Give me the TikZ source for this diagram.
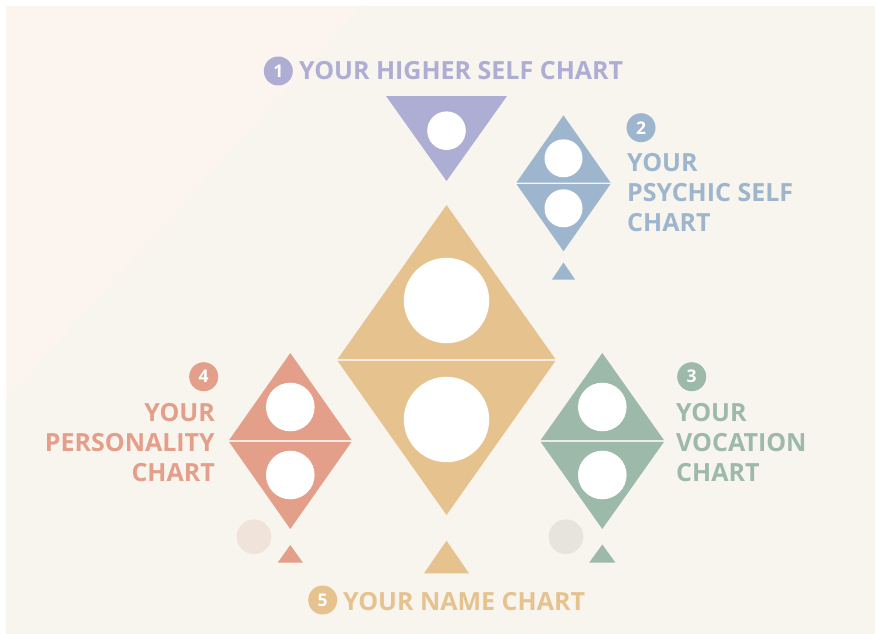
\documentclass[tikz,border=0pt]{standalone}
\usepackage{fontspec}
\setmainfont{Open Sans}
\usepackage{xcolor}
\definecolor{hsPanel}{HTML}{F8F4EE}
\definecolor{hsBlush}{HTML}{FCF4EE}
\definecolor{hsPurple}{HTML}{AEADD4}
\definecolor{hsBlue}{HTML}{9DB6CD}
\definecolor{hsGold}{HTML}{E6C28F}
\definecolor{hsSalmon}{HTML}{E39F8A}
\definecolor{hsSage}{HTML}{9CB9A9}
\definecolor{hsDotRose}{HTML}{EFE3DA}
\definecolor{hsDotGrey}{HTML}{E6E4DC}
\newcommand{\hsLabel}{\fontsize{25}{30}\selectfont\bfseries}
\newcommand{\hsNum}{\fontsize{17.5}{20}\selectfont\bfseries}
% kite: colour, centre x, middle y, half width, half height, circle radius, circle offset
\newcommand{\hsKite}[7]{%
  \fill[#1] (#2-#4,#3-0.8) -- (#2,#3-#5) -- (#2+#4,#3-0.8) -- cycle;
  \fill[#1] (#2-#4,#3+0.8) -- (#2,#3+#5) -- (#2+#4,#3+0.8) -- cycle;
  \fill[white] (#2,#3-#7) circle (#6);
  \fill[white] (#2,#3+#7) circle (#6);}
\newcommand{\hsTip}[5]{\fill[#1] (#2-#4,#3) -- (#2,#3-#5) -- (#2+#4,#3) -- cycle;}

\begin{document}
\begin{tikzpicture}[x=1pt,y=-1pt]
\useasboundingbox (0,0) rectangle (875,634);
\fill[white] (0,0) rectangle (875,634);
\fill[hsPanel] (6,6) rectangle (875,634);
\fill[hsBlush] (6,6) -- (362,6) -- (6,400) -- cycle;
% top: higher self
\fill[hsPurple] (386,96) -- (507,96) -- (446.5,181) -- cycle;
\fill[white] (446.5,130.7) circle (19.3);
\node[circle, fill=hsPurple, minimum size=29pt, inner sep=0pt, text=white] (n1) at (278.3,71) {\hsNum 1};
\node[anchor=base west, inner sep=0pt, text=hsPurple] (t1) at (299,79) {\hsLabel YOUR HIGHER SELF CHART};
% psychic self
\hsKite{hsBlue}{563.5}{183.3}{47}{68}{19}{25}
\hsTip{hsBlue}{563.5}{279.5}{11.5}{17}
\node[circle, fill=hsBlue, minimum size=29pt, inner sep=0pt, text=white] (n2) at (641,127.7) {\hsNum 2};
\node[anchor=base west, inner sep=0pt, text=hsBlue] (t2a) at (627,171.7) {\hsLabel YOUR};
\node[anchor=base west, inner sep=0pt, text=hsBlue] (t2b) at (627,201.7) {\hsLabel PSYCHIC SELF};
\node[anchor=base west, inner sep=0pt, text=hsBlue] (t2c) at (627,231.7) {\hsLabel CHART};
% name chart (centre)
\hsKite{hsGold}{446.5}{360}{109}{155}{42.7}{59.5}
\hsTip{hsGold}{446.5}{573.3}{22.5}{32.6}
\node[circle, fill=hsGold, minimum size=29pt, inner sep=0pt, text=white] (n5) at (322.7,600) {\hsNum 5};
\node[anchor=base west, inner sep=0pt, text=hsGold] (t5) at (343,610.7) {\hsLabel YOUR NAME CHART};
% personality
\fill[hsDotRose] (254,536.7) circle (17.3);
\hsKite{hsSalmon}{290.3}{441}{61.3}{88}{24.3}{34}
\hsTip{hsSalmon}{290.3}{562.5}{12.5}{17.5}
\node[circle, fill=hsSalmon, minimum size=29pt, inner sep=0pt, text=white] (n4) at (203.7,376.7) {\hsNum 4};
\node[anchor=base east, inner sep=0pt, text=hsSalmon] (t4a) at (215,421) {\hsLabel YOUR};
\node[anchor=base east, inner sep=0pt, text=hsSalmon] (t4b) at (215,451) {\hsLabel PERSONALITY};
\node[anchor=base east, inner sep=0pt, text=hsSalmon] (t4c) at (215,481) {\hsLabel CHART};
% vocation
\fill[hsDotGrey] (566,536.7) circle (17.3);
\hsKite{hsSage}{602.3}{441}{61.7}{88}{24.3}{34}
\hsTip{hsSage}{602.3}{562.5}{13}{18}
\node[circle, fill=hsSage, minimum size=29pt, inner sep=0pt, text=white] (n3) at (691.7,376.7) {\hsNum 3};
\node[anchor=base west, inner sep=0pt, text=hsSage] (t3a) at (676,421.7) {\hsLabel YOUR};
\node[anchor=base west, inner sep=0pt, text=hsSage] (t3b) at (676,451.7) {\hsLabel VOCATION};
\node[anchor=base west, inner sep=0pt, text=hsSage] (t3c) at (676,481.7) {\hsLabel CHART};
\end{tikzpicture}
\end{document}
